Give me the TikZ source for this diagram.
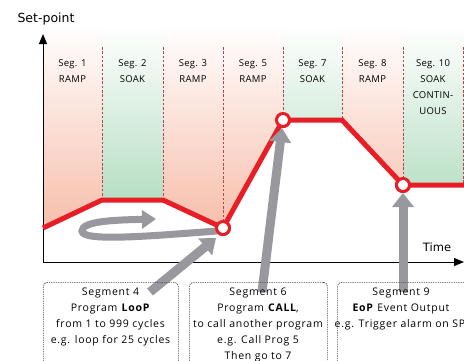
\documentclass[tikz,border=0pt]{standalone}
\usepackage{fontspec}
\setmainfont{Open Sans}
\newfontfamily\axfont{DejaVu Sans}
\usetikzlibrary{arrows.meta}
\definecolor{redline}{RGB}{232,30,38}
\definecolor{pinkfill}{RGB}{247,188,168}
\definecolor{greenfill}{RGB}{168,216,184}
\definecolor{sepred}{RGB}{175,70,80}
\definecolor{agray}{RGB}{152,152,158}
\definecolor{boxline}{RGB}{70,70,70}
\tikzset{
  pinkcol/.style={top color=white, bottom color=pinkfill},
  greencol/.style={top color=white, bottom color=greenfill},
  sepline/.style={sepred, line width=0.7pt, dash pattern=on 2.5pt off 1.8pt},
  profile/.style={redline, line width=5pt, line join=miter},
  circ/.style={circle, draw=redline, fill=white, line width=3pt, minimum size=13pt, inner sep=0pt},
  axisline/.style={black, line width=1pt, -{Triangle[length=10pt,width=8pt]}},
  bigarrow/.style={agray, line width=9pt, -{Triangle[length=14pt,width=21pt]}},
  looparrow/.style={agray, line width=7pt, -{Triangle[length=14pt,width=18pt]}},
  evbox/.style={draw=boxline, line width=0.7pt, dash pattern=on 1.3pt off 1pt, rounded corners=4pt, anchor=north west, inner sep=0pt},
  evtext/.style={align=center, anchor=north, font=\fontsize{10.5}{16}\selectfont\addfontfeatures{LetterSpace=7}, inner sep=0pt},
  seglabel/.style={align=center, anchor=north, font=\fontsize{9.5}{16}\selectfont\addfontfeatures{LetterSpace=3}, inner sep=0pt}
}
\begin{document}
\begin{tikzpicture}[x=1pt,y=-1pt]
\clip (0,0) rectangle (464,360);
\fill[white] (0,0) rectangle (464,360);
% key points
\coordinate (p0) at (43,228);
\coordinate (p1) at (102,200);
\coordinate (p2) at (163,200);
\coordinate (p3) at (342,120);
\coordinate (p4) at (468,185);
\node[circ] (c1) at (223,228) {};
\node[circ] (c2) at (283,120) {};
\node[circ] (c3) at (403,185) {};
% coloured columns
\begin{scope}
\clip (43,10) -- (470,10) -- (470,185) -- (403,185) -- (342,120) -- (283,120) -- (223,228) -- (163,200) -- (102,200) -- (43,228) -- cycle;
\shade[pinkcol]  (43,25) rectangle (102,235);
\shade[greencol] (102,25) rectangle (163,235);
\shade[pinkcol]  (163,25) rectangle (223,235);
\shade[pinkcol]  (223,25) rectangle (283,235);
\shade[greencol] (283,25) rectangle (342,235);
\shade[pinkcol]  (342,25) rectangle (403,235);
\shade[greencol] (403,25) rectangle (470,235);
\end{scope}
% separators
\draw[sepline] (102,47) -- (p1);
\draw[sepline] (163,47) -- (p2);
\draw[sepline] (223,47) -- (c1);
\draw[sepline] (283,47) -- (c2);
\draw[sepline] (342,47) -- (p3);
\draw[sepline] (403,47) -- (c3);
\draw[sepline] (463,47) -- (463,185);
% segment labels
\node[seglabel] (s1) at (72.5,59) {Seg. 1\\RAMP};
\node[seglabel] (s2) at (132.5,59) {Seg. 2\\SOAK};
\node[seglabel] (s3) at (193,59) {Seg. 3\\RAMP};
\node[seglabel] (s5) at (253,59) {Seg. 5\\RAMP};
\node[seglabel] (s7) at (312.5,59) {Seg. 7\\SOAK};
\node[seglabel] (s8) at (372.5,59) {Seg. 8\\RAMP};
\node[seglabel] (s10) at (433,59) {Seg. 10\\SOAK\\CONTIN-\\UOUS};
% axes
\coordinate (o) at (43,262);
\coordinate (ytip) at (43,34);
\coordinate (xtip) at (464,262);
\draw[axisline] (o) -- (ytip);
\draw[axisline] (o) -- (xtip);
\node[font=\axfont\fontsize{12.5}{14}\selectfont] (ylab) at (46,19) {Set-point};
\node[font=\axfont\fontsize{11.5}{14}\selectfont] (xlab) at (437,247) {Time};
% profile
\draw[profile] (p0) -- (p1) -- (p2) -- (c1.center) -- (c2.center) -- (p3) -- (c3.center) -- (p4);
% gray arrows
\coordinate (a1) at (150,292);
\coordinate (a2) at (262,292);
\coordinate (a3) at (403,292);
\coordinate (l0) at (217,231);
\coordinate (l1) at (156,219);
\draw[bigarrow] (a1) -- (216,238);
\draw[bigarrow] (a2) -- (282,128);
\draw[bigarrow] (a3) -- (403,193);
\draw[looparrow] (l0) .. controls (150,236) and (82,242) .. (82,231) .. controls (82,221) and (115,220) .. (l1);
% circles on top
\node[circ] at (c1) {};
\node[circ] at (c2) {};
\node[circ] at (c3) {};
% event boxes
\node[evbox, minimum width=135pt, minimum height=100pt] (b1) at (43,282) {};
\node[evbox, minimum width=138pt, minimum height=100pt] (b2) at (189,282) {};
\node[evbox, minimum width=140pt, minimum height=100pt] (b3) at (337,282) {};
\node[evtext] (t1) at (110.5,287.5) {Segment 4\\Program \textbf{LooP}\\from 1 to 999 cycles\\e.g. loop for 25 cycles};
\node[evtext] (t2) at (258,287.5) {Segment 6\\Program \textbf{CALL},\\to call another program\\e.g. Call Prog 5\\Then go to 7};
\node[evtext] (t3) at (401,287.5) {Segment 9\\\textbf{EoP} Event Output\\e.g. Trigger alarm on SP.};
\end{tikzpicture}
\end{document}
